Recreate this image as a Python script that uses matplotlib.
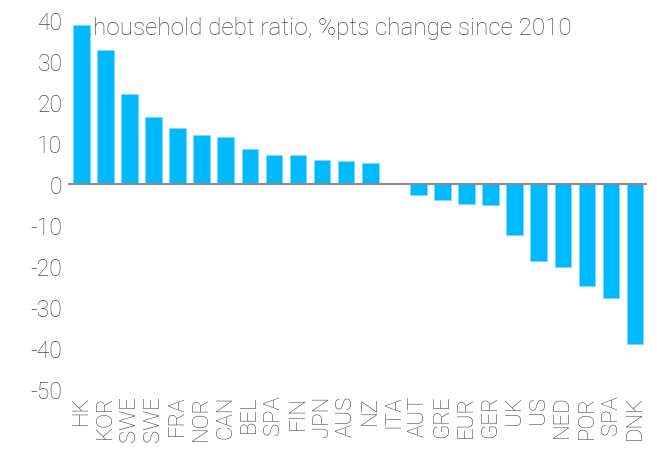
import matplotlib.pyplot as plt
import numpy as np

countries = ['HK', 'KOR', 'SWE', 'SWE', 'FRA', 'NOR', 'CAN', 'BEL', 'SPA', 'FIN', 'JPN', 'AUS',
             'NZ', 'ITA', 'AUT', 'GRE', 'EUR', 'GER', 'UK', 'US', 'NED', 'POR', 'SPA', 'DNK']
debt_change = [38.8, 32.8, 22.0, 16.3, 13.6, 12.0, 11.5, 8.5, 7.0, 7.0, 5.9, 5.6,
               5.2, 0.3, -2.6, -4.0, -4.9, -5.2, -12.5, -18.7, -20.2, -24.8, -27.8, -39.1]
yticks = [-50, -40, -30, -20, -10, 0, 10, 20, 30, 40]

plt.rcParams['font.family'] = ['Roboto', 'DejaVu Sans']
text_color = '#4a4a4a'

fig = plt.figure(figsize=(6.57, 4.52), dpi=100)
ax = fig.add_axes([0.1035, 0.137, 0.8815, 0.8165])

x = np.arange(len(countries))
ax.bar(x, debt_change, width=0.69, color='#00BAFF', edgecolor='#7fd6ff', linewidth=0.6)
ax.axhline(0, color='#8c8c8c', linewidth=1.5, zorder=1)

ax.set_xlim(-0.55, len(countries) - 0.5)
ax.set_ylim(-50, 40)
ax.set_yticks(yticks)
ax.set_yticklabels([str(t) for t in yticks], fontsize=16.5, color=text_color, fontweight='light')
ax.set_xticks(x)
ax.set_xticklabels(countries, rotation=90, fontsize=16, color=text_color, fontweight='light')
ax.tick_params(length=0, pad=4)
for s in ax.spines.values():
    s.set_visible(False)

ax.text(0.044, 1.01, 'household debt ratio, %pts change since 2010', transform=ax.transAxes,
        fontsize=17.5, color=text_color, fontweight='light', va='top', ha='left')

fig.savefig('out.png', dpi=100)
